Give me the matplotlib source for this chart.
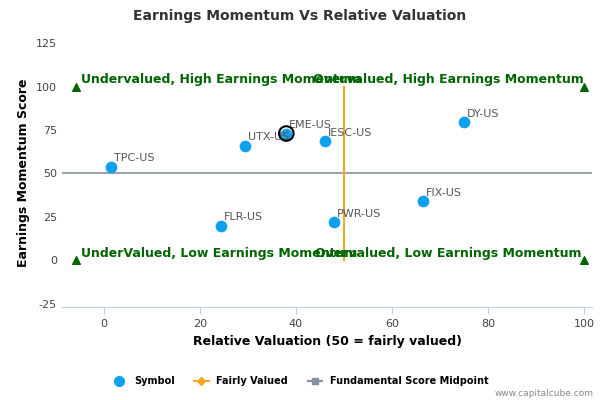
import matplotlib
matplotlib.use("Agg")
import matplotlib.pyplot as plt
from matplotlib.lines import Line2D
plt.rcParams["axes.unicode_minus"] = False

symbols = ["TPC-US", "FLR-US", "UTX-US", "EME-US", "IESC-US", "PWR-US", "FIX-US", "DY-US"]
valuation = [1.5, 24.5, 29.5, 38, 46, 48, 66.5, 75]
momentum = [54, 20, 66, 73, 68.5, 22, 34, 79.5]
highlight = "EME-US"
xticks = [0, 20, 40, 60, 80, 100]
yticks = [-25, 0, 25, 50, 75, 100, 125]

fig = plt.figure(figsize=(6, 4), dpi=100)
ax = fig.add_axes([0.103, 0.232, 0.884, 0.673])
ax.set_xlim(-8.75, 101.7)
ax.set_ylim(-27, 128)
for s in ax.spines.values():
    s.set_visible(False)
ax.spines["bottom"].set_visible(True)
ax.spines["bottom"].set_color("#c0d0e0")
ax.set_xticks(xticks)
ax.set_yticks(yticks)
ax.tick_params(labelsize=8, colors="#444444", length=0)
ax.tick_params(axis="x", length=5, color="#c0d0e0")

ax.plot([-8.75, 101.7], [50, 50], color="#8890a0", lw=1.2, zorder=1)
ax.plot([50, 50], [0, 100], color="#f5a623", lw=1.5, zorder=1)
ax.scatter(valuation, momentum, s=55, color="#0da0ef", zorder=3)
for sx, v, m in zip(symbols, valuation, momentum):
    ax.annotate(sx, (v, m), xytext=(2, 4), textcoords="offset points", fontsize=8, color="#555555", zorder=4)
    if sx == highlight:
        ax.scatter([v], [m], s=110, facecolor="none", edgecolor="black", lw=1.5, zorder=4)

tri_x = [-5.8, -5.8, 100, 100]
tri_y = [100, 0, 100, 0]
ax.scatter(tri_x, tri_y, marker="^", s=30, color="#006400", zorder=3, clip_on=False)

g = "#006400"
ax.text(-4.8, 102, "Undervalued, High Earnings Momentum", color=g, fontsize=9, fontweight="bold")
ax.text(43.5, 102, "Overvalued, High Earnings Momentum", color=g, fontsize=9, fontweight="bold")
ax.text(-4.8, 2, "UnderValued, Low Earnings Momentum", color=g, fontsize=9, fontweight="bold")
ax.text(44, 2, "Overvalued, Low Earnings Momentum", color=g, fontsize=9, fontweight="bold")

ax.set_xlabel("Relative Valuation (50 = fairly valued)", fontsize=9, fontweight="bold")
ax.set_ylabel("Earnings Momentum Score", fontsize=9, fontweight="bold")
fig.text(0.5, 0.95, "Earnings Momentum Vs Relative Valuation", ha="center", fontsize=10, fontweight="bold", color="#333333")

handles = [
    Line2D([], [], marker="o", color="#0da0ef", ls="", markersize=7),
    Line2D([], [], marker="D", color="#f5a623", markersize=4, lw=1.5),
    Line2D([], [], marker="s", color="#8890a0", markersize=5, lw=1.5),
]
fig.legend(handles, ["Symbol", "Fairly Valued", "Fundamental Score Midpoint"], loc="center",
           bbox_to_anchor=(0.5, 0.047), ncol=3, frameon=False, prop={"size": 7, "weight": "bold"},
           handlelength=1.5, columnspacing=2)
fig.text(0.99, 0.01, "www.capitalcube.com", ha="right", fontsize=6.5, color="#888888")
fig.savefig("out.png", dpi=100)
